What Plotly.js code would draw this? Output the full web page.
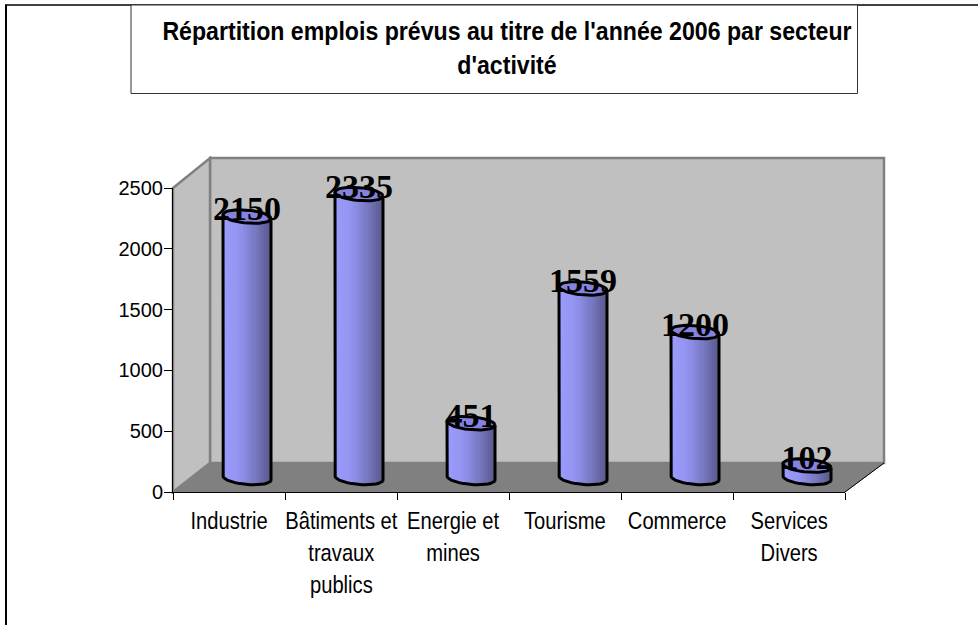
<!DOCTYPE html>
<html><head><meta charset="utf-8">
<script src="https://cdn.plot.ly/plotly-3.0.1.min.js"></script>
<style>html,body{margin:0;padding:0;background:#fff}#c{width:978px;height:625px}</style></head>
<body><div id="c"></div>
<script>
const categories = ["Industrie","Bâtiments et<br>travaux<br>publics","Energie et<br>mines","Tourisme","Commerce","Services<br>Divers"];
const values = [2150,2335,451,1559,1200,102];
const yTicks = [0,500,1000,1500,2000,2500];
const titleLines = ["Répartition emplois prévus au titre de l'année 2006 par secteur","d'activité"];

const W=978,H=625;
const px=x=>x/W, py=y=>1-y/H;
const poly=(pts,fill,line,lw)=>({type:'path',xref:'paper',yref:'paper',layer:'below',
  path:'M'+pts.map(p=>px(p[0])+','+py(p[1])).join('L')+'Z',fillcolor:fill,line:{color:line,width:lw}});
const seg=(a,b,c,w)=>({type:'line',xref:'paper',yref:'paper',layer:'below',x0:px(a[0]),y0:py(a[1]),x1:px(b[0]),y1:py(b[1]),line:{color:c,width:w}});

const shapes=[
  seg([6,5],[6,640],'#000',2),
  seg([5,5],[990,5],'#000',1.5),
  {type:'rect',xref:'paper',yref:'paper',layer:'below',x0:px(131),x1:px(857.5),y0:py(5),y1:py(93.5),fillcolor:'#fff',line:{color:'#333',width:1}},
  poly([[210,158],[884,158],[884,463],[210,463]],'#c0c0c0','#808080',2.5),
  poly([[173,188],[210,158],[210,463],[173,492]],'#c0c0c0','#808080',2.5),
  poly([[173,492],[210,463],[884,463],[845,492]],'#808080','#808080',1),
  seg([845,492],[884,463],'#000',1)
];

const unit=2500/304;
const halfW=24/112, ryU=6.5*unit, tilt=2*unit, N=22, labelLift=5*unit, pad=200;
function shade(t){
  const s=[[0,[156,156,255]],[0.35,[146,146,238]],[0.7,[118,118,190]],[1,[88,88,140]]];
  let i=0; while(i<s.length-2&&t>s[i+1][0])i++;
  const f=(t-s[i][0])/(s[i+1][0]-s[i][0]);
  const c=s[i][1].map((v,k)=>Math.round(v+(s[i+1][1][k]-v)*f));
  return 'rgb('+c.join(',')+')';
}
const traces=[];
traces.push({type:'scatter',x:[0,6],y:[0,0],xaxis:'x',yaxis:'y',mode:'none',showlegend:false,hoverinfo:'skip'});
const bx=[],by=[],bb=[],bw=[],bc=[];
values.forEach((v,i)=>{
  for(let k=0;k<N;k++){
    const t=(k+.5)/N,u=2*t-1;
    const low=-ryU*Math.sqrt(1-u*u)-tilt*u, top=v-tilt*u;
    bx.push(i+.5+u*halfW);bw.push(2*halfW/N+0.002);bb.push(low);by.push(top-low);bc.push(shade(t));
  }
});
traces.push({type:'bar',x:bx,y:by,base:bb,width:bw,marker:{color:bc,line:{width:0}},xaxis:'x2',yaxis:'y2',showlegend:false,hoverinfo:'skip'});
values.forEach((v,i)=>{
  const xs=[],ys=[],tx=[],ty=[],M=48;
  for(let a=0;a<=M;a++){const th=2*Math.PI*a/M,u=Math.cos(th);tx.push(i+.5+u*halfW);ty.push(v+ryU*Math.sin(th)-tilt*u);}
  xs.push(i+.5-halfW);ys.push(v+tilt);
  for(let a=0;a<=M/2;a++){const th=Math.PI*a/(M/2),u=-Math.cos(th);xs.push(i+.5+u*halfW);ys.push(-ryU*Math.sin(th)-tilt*u);}
  xs.push(i+.5+halfW);ys.push(v-tilt);
  traces.push({type:'scatter',mode:'lines',x:tx,y:ty,fill:'toself',fillcolor:'#8484e0',line:{color:'#000',width:3},xaxis:'x2',yaxis:'y2',showlegend:false,hoverinfo:'skip'});
  traces.push({type:'scatter',mode:'lines',x:xs,y:ys,line:{color:'#000',width:3},xaxis:'x2',yaxis:'y2',showlegend:false,hoverinfo:'skip'});
});
traces.push({type:'scatter',mode:'text',x:values.map((v,i)=>i+.5),y:values.map(v=>v+labelLift),text:values.map(String),textposition:'middle center',
  textfont:{family:'"Liberation Serif"',size:34,color:'#000',weight:700},xaxis:'x2',yaxis:'y2',showlegend:false,hoverinfo:'skip'});

const sans='"Liberation Sans"';
const layout={
  width:W,height:H,margin:{l:0,r:0,t:0,b:0},paper_bgcolor:'#fff',plot_bgcolor:'rgba(0,0,0,0)',showlegend:false,bargap:0,barmode:'overlay',
  title:{text:'<b><span style="font-size:25px">'+titleLines.join('<br>')+'</span></b>',font:{family:sans,size:26,color:'#000'},x:507/W,xanchor:'center',y:1-40/H,yanchor:'middle'},
  shapes:shapes,
  xaxis:{domain:[px(173),px(845)],range:[0,6],tickmode:'array',tickvals:[0,1,2,3,4,5,6],ticktext:['','','','','','',''],ticks:'outside',ticklen:7,tickcolor:'#000',tickwidth:1,showgrid:false,zeroline:false,showline:true,linecolor:'#000',linewidth:1,anchor:'y',fixedrange:true},
  yaxis:{domain:[py(492),py(188)],range:[0,2500],tickmode:'array',tickvals:yTicks,ticks:'outside',ticklen:8,tickcolor:'#000',tickwidth:1,showgrid:false,zeroline:false,showline:true,linecolor:'#000',linewidth:1,anchor:'x',ticklabelstandoff:-3,tickfont:{family:sans,size:20,color:'#000'},fixedrange:true},
  xaxis2:{domain:[px(191),px(863)],range:[0,6],visible:false,anchor:'y2',fixedrange:true},
  yaxis2:{domain:[py(478+pad/unit),py(174-pad/unit)],range:[-pad,2500+pad],visible:false,anchor:'x2',fixedrange:true},
  annotations:categories.map((c,i)=>({xref:'x',yref:'paper',x:i+.5,y:py(505),yanchor:'top',xanchor:'center',showarrow:false,align:'center',text:c,font:{family:sans,size:24.6,color:'#000'}}))
};
function condense(sel,f){
  document.querySelectorAll(sel).forEach(t=>{
    const lines=t.querySelectorAll('tspan.line');
    (lines.length?Array.from(lines):[t]).forEach(e=>{
      const L=e.getComputedTextLength();
      e.setAttribute('textLength',(L*f).toFixed(1));
      e.setAttribute('lengthAdjust','spacingAndGlyphs');
    });
  });
}
Plotly.newPlot('c',traces,layout,{displayModeBar:false,staticPlot:true}).then(()=>{
  condense('.annotation-text',0.82);
  condense('.gtitle',0.925);
});
</script></body></html>
